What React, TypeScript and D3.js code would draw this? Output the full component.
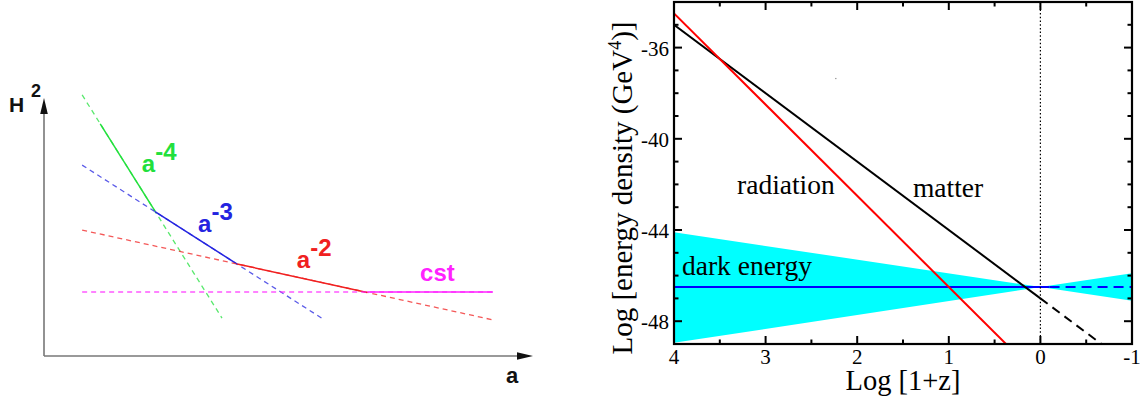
import React from 'react';
import * as d3 from 'd3';

const W = 1140;
const H = 401;

// ---------- Left panel: schematic H^2 vs a ----------
const schemLabels = ['-4', '-3', '-2', 'cst'];
const schemColors = ['#22e03c', '#2424e0', '#f02020', '#ff22ff'];
const schemStartX = [0.78, 0.78, 0.78, 0.78];
const schemStartY = [10.12, 7.4, 4.88, 2.48];
const schemEndX = [3.64, 5.71, 9.18, 9.18];
const schemEndY = [1.47, 1.43, 1.4, 2.48];
const solidFrom = [1.15, 2.27, 3.95, 6.61];
const solidTo = [2.27, 3.95, 6.61, 9.18];
const labelX = [2.0, 3.15, 5.17, 7.69];
const labelY = [7.13, 4.81, 3.41, 2.91];

// ---------- Right panel: log energy density vs log(1+z) ----------
const xMajor = [4, 3, 2, 1, 0, -1];
const xMinor = [3.5, 2.5, 1.5, 0.5, -0.5];
const yMajor = [-36, -40, -44, -48];
const yMinor = [-35, -37, -38, -39, -41, -42, -43, -45, -46, -47];
const radiationX = [4, 0];
const radiationY = [-34.5, -50.5];
const matterX = [4, 0];
const matterY = [-35, -47];
const matterFutureX = [0, -1];
const matterFutureY = [-47, -50];
const darkX = [4, -0.1];
const darkFutureX = [-0.1, -1];
const darkLevel = -46.5;
const bandX = [4, 0, -1];
const bandTop = [-44.1, -46.5, -45.9];
const bandBottom = [-48.95, -46.5, -47.1];
const speckX = [2.24];
const speckY = [-37.33];

export default function App() {
  // left scales
  const xL = d3.scaleLinear().domain([0, 10]).range([44, 533]);
  const yL = d3.scaleLinear().domain([0, 10]).range([356, 98]);
  const lineL = d3.line<[number, number]>().x(d => xL(d[0])).y(d => yL(d[1]));
  const yOn = (i: number, x: number) =>
    schemStartY[i] + ((x - schemStartX[i]) * (schemEndY[i] - schemStartY[i])) / (schemEndX[i] - schemStartX[i]);

  // right scales
  const xR = d3.scaleLinear().domain([4, -1]).range([674, 1132]);
  const yR = d3.scaleLinear().domain([-49, -34]).range([344, 2]);
  const lineR = d3.line<[number, number]>().x(d => xR(d[0])).y(d => yR(d[1]));
  const area = d3
    .area<number>()
    .x((_, i) => xR(bandX[i]))
    .y0((_, i) => yR(bandBottom[i]))
    .y1((_, i) => yR(bandTop[i]));

  const [x0, x1] = xR.range();
  const [yb, yt] = yR.range();
  const sans = '"Liberation Sans", Arial, Helvetica, sans-serif';
  const serif = '"Liberation Serif", "Times New Roman", Times, serif';

  return (
    <svg width={W} height={H} style={{ position: 'absolute', left: 0, top: 0, background: '#fff' }}>
      <defs>
        <clipPath id="plotclip">
          <rect x={x0} y={yt} width={x1 - x0} height={yb - yt} />
        </clipPath>
      </defs>

      {/* ---------- LEFT PANEL ---------- */}
      <g>
        {schemLabels.map((lab, i) => (
          <g key={'s' + i}>
            <path
              d={lineL([
                [schemStartX[i], schemStartY[i]],
                [schemEndX[i], schemEndY[i]],
              ])!}
              stroke={schemColors[i]}
              strokeWidth={1.3}
              strokeDasharray="5,4"
              opacity={0.75}
              fill="none"
            />
            <path
              d={lineL([
                [solidFrom[i], yOn(i, solidFrom[i])],
                [solidTo[i], yOn(i, solidTo[i])],
              ])!}
              stroke={schemColors[i]}
              strokeWidth={1.5}
              fill="none"
            />
          </g>
        ))}
        {/* axes */}
        <line x1={xL(0)} y1={yL(0)} x2={xL(0)} y2={yL(10) + 12} stroke="#777" strokeWidth={1.6} />
        <line x1={xL(0)} y1={yL(0)} x2={xL(10) - 12} y2={yL(0)} stroke="#777" strokeWidth={1.6} />
        <path
          d={`M${xL(0)},${yL(10)} L${xL(0) + 3.8},${yL(10) + 16} L${xL(0) - 3.8},${yL(10) + 16} Z`}
          fill="#111"
        />
        <path
          d={`M${xL(10)},${yL(0)} L${xL(10) - 16},${yL(0) + 3.8} L${xL(10) - 16},${yL(0) - 3.8} Z`}
          fill="#111"
        />
        <text x={9} y={111.5} fontFamily={sans} fontWeight="bold" fontSize={21} fill="#111">
          H
        </text>
        <text x={31} y={97} fontFamily={sans} fontWeight="bold" fontSize={18} fill="#111">
          2
        </text>
        <text x={506} y={383} fontFamily={sans} fontWeight="bold" fontSize={22} fill="#111">
          a
        </text>
        {schemLabels.map((lab, i) =>
          lab === 'cst' ? (
            <text
              key={'l' + i}
              x={xL(labelX[i])}
              y={yL(labelY[i])}
              fontFamily={sans}
              fontWeight="bold"
              fontSize={24}
              fill={schemColors[i]}
            >
              cst
            </text>
          ) : (
            <text
              key={'l' + i}
              x={xL(labelX[i])}
              y={yL(labelY[i])}
              fontFamily={sans}
              fontWeight="bold"
              fontSize={24}
              fill={schemColors[i]}
            >
              a
              <tspan dy={-12} fontSize={24}>
                {lab}
              </tspan>
            </text>
          )
        )}
      </g>

      {/* ---------- RIGHT PANEL ---------- */}
      <g>
        <g clipPath="url(#plotclip)">
          <path d={area(bandX)!} fill="#00ffff" stroke="none" />
          <path d={lineR(darkX.map(x => [x, darkLevel] as [number, number]))!} stroke="#0000ff" strokeWidth={2.2} fill="none" />
          <path
            d={lineR(darkFutureX.map(x => [x, darkLevel] as [number, number]))!}
            stroke="#0000ff"
            strokeWidth={2.2}
            strokeDasharray="10,6"
            fill="none"
          />
          <path d={lineR(matterX.map((x, i) => [x, matterY[i]] as [number, number]))!} stroke="#000" strokeWidth={2} fill="none" />
          <path
            d={lineR(matterFutureX.map((x, i) => [x, matterFutureY[i]] as [number, number]))!}
            stroke="#000"
            strokeWidth={2}
            strokeDasharray="9,6"
            fill="none"
          />
          <path d={lineR(radiationX.map((x, i) => [x, radiationY[i]] as [number, number]))!} stroke="#ff0000" strokeWidth={2} fill="none" />
          <line x1={xR(0)} y1={yt} x2={xR(0)} y2={yb} stroke="#000" strokeWidth={1.2} strokeDasharray="1.5,2.2" />
          {speckX.map((x, i) => (
            <rect key={'sp' + i} x={xR(x)} y={yR(speckY[i])} width={1.2} height={1.2} fill="#888" />
          ))}
        </g>

        {/* ticks */}
        {xMajor.map(v => (
          <g key={'xM' + v}>
            <line x1={xR(v)} x2={xR(v)} y1={yb} y2={yb - 8} stroke="#000" strokeWidth={2} />
            <line x1={xR(v)} x2={xR(v)} y1={yt} y2={yt + 8} stroke="#000" strokeWidth={2} />
            <text x={xR(v)} y={364} textAnchor="middle" fontFamily={serif} fontSize={21} fill="#000">
              {v}
            </text>
          </g>
        ))}
        {xMinor.map(v => (
          <g key={'xm' + v}>
            <line x1={xR(v)} x2={xR(v)} y1={yb} y2={yb - 4.5} stroke="#000" strokeWidth={2} />
            <line x1={xR(v)} x2={xR(v)} y1={yt} y2={yt + 4.5} stroke="#000" strokeWidth={2} />
          </g>
        ))}
        {yMajor.map(v => (
          <g key={'yM' + v}>
            <line x1={x0} x2={x0 + 8} y1={yR(v)} y2={yR(v)} stroke="#000" strokeWidth={2} />
            <line x1={x1} x2={x1 - 8} y1={yR(v)} y2={yR(v)} stroke="#000" strokeWidth={2} />
            <text x={669} y={yR(v) + 8} textAnchor="end" fontFamily={serif} fontSize={21} fill="#000">
              {v}
            </text>
          </g>
        ))}
        {yMinor.map(v => (
          <g key={'ym' + v}>
            <line x1={x0} x2={x0 + 4.5} y1={yR(v)} y2={yR(v)} stroke="#000" strokeWidth={2} />
            <line x1={x1} x2={x1 - 4.5} y1={yR(v)} y2={yR(v)} stroke="#000" strokeWidth={2} />
          </g>
        ))}
        <rect x={x0} y={yt} width={x1 - x0} height={yb - yt} fill="none" stroke="#000" strokeWidth={2.2} />

        {/* annotations */}
        <text x={xR(3.312)} y={yR(-42.42)} fontFamily={serif} fontSize={27.5} fill="#000">
          radiation
        </text>
        <text x={xR(1.391)} y={yR(-42.55)} fontFamily={serif} fontSize={27.5} fill="#000">
          matter
        </text>
        <text x={xR(3.913)} y={yR(-45.97)} fontFamily={serif} fontSize={27.5} fill="#000">
          dark energy
        </text>

        {/* axis titles */}
        <text x={903} y={390} textAnchor="middle" fontFamily={serif} fontSize={28.5} fill="#000">
          Log [1+z]
        </text>
        <text
          transform={`translate(632,188) rotate(-90)`}
          textAnchor="middle"
          fontFamily={serif}
          fontSize={29}
          fill="#000"
        >
          Log [energy density (GeV
          <tspan dy={-11} fontSize={18}>
            4
          </tspan>
          <tspan dy={11}>)]</tspan>
        </text>
      </g>
    </svg>
  );
}
